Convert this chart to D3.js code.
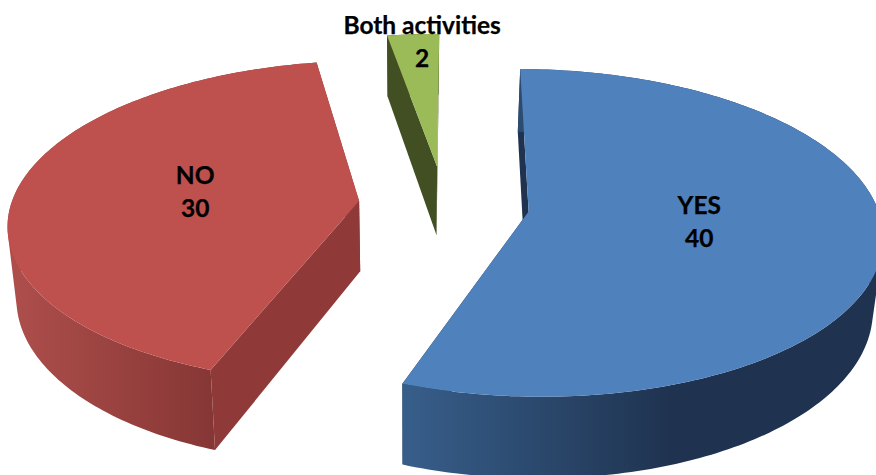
<!DOCTYPE html>
<html>
<head>
<meta charset="utf-8">
<script src="https://cdn.jsdelivr.net/npm/d3@7"></script>
<style>
html,body{margin:0;padding:0;background:#fff;overflow:hidden}
svg{display:block}
text{font-family:Lato,"Open Sans",sans-serif;font-weight:700;fill:#000;stroke:#000;stroke-width:0.25px}
</style>
</head>
<body>
<svg id="chart" width="876" height="475"></svg>
<script>
const categories = ["YES", "NO", "Both activities"];
const values = [40, 30, 2];
const topColors = ["#4f81bd", "#be504d", "#9bbb59"];
const wallColors = ["#1f3350", "#8f3a38", "#414f22"];
const rimLeft = ["#375e8a", "#ad4e4b", "#414f22"];
const rimRight = ["#1f3350", "#863735", "#414f22"];

const W = 876, H = 475;
const R = 350, explode = 86, depth = 71;
const xv = 444, f = 2680, horizonY = -1021.5, camH = 1233;
const nadirX = 410, nadirShrink = 0.022;
const rotation = 0.25 * Math.PI / 180;
const rimRange = [[405, 670], [15, 212], [380, 440]];

const svg = d3.select("#chart");
const pie = d3.pie().sort(null).startAngle(rotation).endAngle(2 * Math.PI + rotation);
const arcs = pie(values);
const mid = d => (d.startAngle + d.endAngle) / 2;
const offsetY = -explode * Math.cos(mid(arcs[0]));

function project(d, a, r, level) {
  const X = explode * Math.sin(mid(d)) + r * R * Math.sin(a);
  const Y = offsetY + explode * Math.cos(mid(d)) + r * R * Math.cos(a);
  const s = f / (f + Y);
  let x = xv + X * s;
  const y = horizonY + camH * s + level * depth * s;
  x += level * (nadirX - x) * nadirShrink;
  return [x, y];
}

const line = d3.line();
const step = Math.PI / 180;
function angles(d) {
  const list = d3.range(d.startAngle, d.endAngle, step);
  list.push(d.endAngle);
  return list;
}

const defs = svg.append("defs");
arcs.forEach((d, i) => {
  const grad = defs.append("linearGradient")
    .attr("id", "rim" + i)
    .attr("gradientUnits", "userSpaceOnUse")
    .attr("x1", rimRange[i][0]).attr("x2", rimRange[i][1])
    .attr("y1", 0).attr("y2", 0);
  grad.append("stop").attr("offset", 0).attr("stop-color", rimLeft[i]);
  grad.append("stop").attr("offset", 1).attr("stop-color", rimRight[i]);
});

[1, 2, 0].forEach(i => {
  const d = arcs[i];
  const g = svg.append("g");
  const as = angles(d);

  // radial cut faces
  [d.startAngle, d.endAngle].forEach(a => {
    g.append("path")
      .attr("d", line([project(d, 0, 0, 0), project(d, a, 1, 0), project(d, a, 1, 1), project(d, 0, 0, 1)]) + "Z")
      .attr("fill", wallColors[i]);
  });

  // outer rim: quads of one winding in a single path, so they fill as a seamless union
  const rimPath = d3.pairs(as).map(([a, b]) => {
    const q = [project(d, a, 1, 0), project(d, b, 1, 0), project(d, b, 1, 1), project(d, a, 1, 1)];
    if (d3.polygonArea(q) < 0) q.reverse();
    return line(q) + "Z";
  }).join("");
  g.append("path").attr("d", rimPath).attr("fill", "url(#rim" + i + ")");

  // top face
  g.append("path")
    .attr("d", line([project(d, 0, 0, 0)].concat(as.map(a => project(d, a, 1, 0)))) + "Z")
    .attr("fill", topColors[i]);
});

// data labels
const labelFrac = [0.48, 0.48, 0.95];
const labelShiftX = [2.5, 0.5, 8];
const labelShiftY = [-4, -3, 1.5];
arcs.forEach((d, i) => {
  const [x0, y0] = project(d, mid(d), labelFrac[i], 0);
  const x = x0 + labelShiftX[i], y = y0 + labelShiftY[i];
  const t = svg.append("text")
    .attr("x", x)
    .attr("y", y)
    .attr("text-anchor", "middle")
    .attr("font-size", 24.5);
  t.append("tspan").attr("x", x).attr("dy", "-0.3em").text(categories[i]);
  t.append("tspan").attr("x", x).attr("dy", "1.35em").text(values[i]);
});
</script>
</body>
</html>
